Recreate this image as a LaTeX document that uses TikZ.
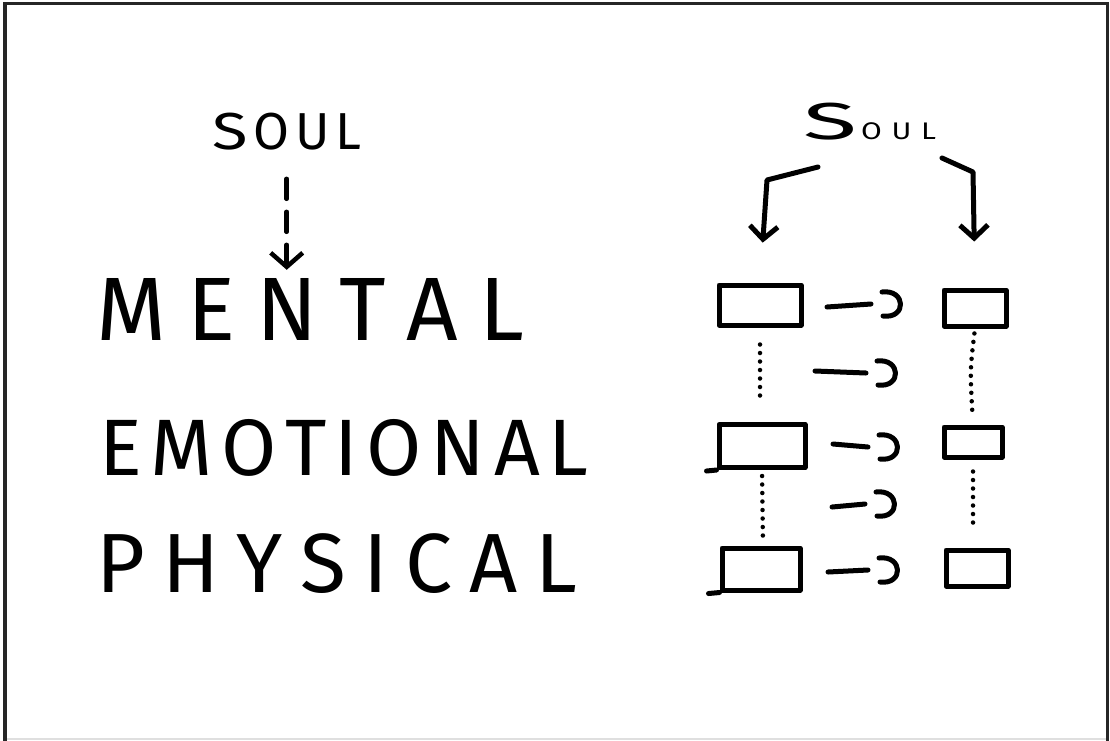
\documentclass[tikz,border=0pt]{standalone}
\usepackage{fontspec}
\setmainfont{Fira Sans}
\usetikzlibrary{arrows.meta}

\tikzset{
  ink/.style={line width=5pt, line cap=round, line join=round, black},
  box/.style={draw, line width=5pt, line join=round, rectangle, inner sep=0pt},
  % a stroke followed by a loose ")" at the target
  flow/.style={ink, to path={-- ([xshift=-31pt]\tikztotarget)
      ([shift={(-19pt,-12pt)}]\tikztotarget)
      .. controls +(24pt,-3pt) and +(24pt,3pt) .. ([shift={(-20pt,12pt)}]\tikztotarget)}},
  drop/.style={ink, -{Straight Barb[length=13pt,width=28pt]}},
  link/.style={line width=4.5pt, line cap=round, dash pattern=on 0pt off 8.5pt},
  word/.style={inner sep=0pt, anchor=base west},
}

\newcommand{\spread}[2]{\makebox[#1][s]{#2}}

\begin{document}
\begin{tikzpicture}[x=1pt,y=-1pt]
  \useasboundingbox (0,0) rectangle (1110,740);
  % frame
  \fill[white] (0,0) rectangle (1110,740);
  \draw[gray!25, line width=2pt] (5,738.5) -- (1107.5,738.5);
  \draw[black!85, line width=3.5pt] (5,742) -- (5,3.5) -- (1107.5,3.5) -- (1107.5,742);

  % left column: the three levels
  \node[word, font=\fontsize{52}{52}\selectfont] (s1) at (212,149)
    {\spread{149pt}{\scalebox{1.25}[1]{S}\hfill O\hfill U\hfill L}};
  \node[word, font=\fontsize{90}{90}\selectfont] (m) at (96,340)
    {\spread{428pt}{M\hfill E\hfill N\hfill T\hfill A\hfill L}};
  \node[word, font=\fontsize{80}{80}\selectfont] (e) at (99,475)
    {\spread{489pt}{E\hfill M\hfill O\hfill T\hfill I\hfill O\hfill N\hfill A\hfill L}};
  \node[word, font=\fontsize{84}{84}\selectfont] (p) at (96,592)
    {\spread{481pt}{P\hfill H\hfill Y\hfill S\hfill I\hfill C\hfill A\hfill L}};

  \draw[ink, line width=4.5pt, dash pattern=on 20pt off 13pt,
        -{Straight Barb[length=14pt,width=32pt]},
        shorten <=29pt, shorten >=8pt] (s1.south) -- (s1.south |- m.north);

  % right column: soul and its boxes
  \node[word] (s2) at (803,139)
    {\fontsize{52}{52}\selectfont\scalebox{1.9}[1]{S}\hspace{4pt}%
     \fontsize{24}{24}\selectfont\scalebox{1.25}[1]{\spread{60pt}{O\hfill U\hfill L}}};

  \node[box, minimum width=82pt, minimum height=40pt] (M1) at (760,305) {};
  \node[box, minimum width=62pt, minimum height=36pt] (M2) at (975,308) {};
  \node[box, minimum width=86pt, minimum height=43pt] (E1) at (762,446) {};
  \node[box, minimum width=58pt, minimum height=30pt] (E2) at (973,442) {};
  \node[box, minimum width=78pt, minimum height=42pt] (P1) at (761,569) {};
  \node[box, minimum width=62pt, minimum height=36pt] (P2) at (977,568) {};

  % stroke overshoots of the hand-drawn boxes
  \draw[ink] (E1.south west) -- ++(-10,1);
  \draw[ink] (P1.south west) -- ++(-11,1);

  % soul reaching both columns
  \coordinate (sl) at (818,167);
  \coordinate (sr) at (942,158);
  \draw[drop, shorten >=40pt] (sl) -- (767,180) -- (M1.north);
  \draw[drop, shorten >=46pt] (sr) -- (973,172) -- (M2.north);

  % level to level, left to right
  \coordinate (am) at (827,307);
  \coordinate (bm) at (902,304);
  \coordinate (a1) at (815,371);
  \coordinate (b1) at (897,373);
  \coordinate (ae) at (833,444);
  \coordinate (be) at (899,447);
  \coordinate (a2) at (832,507);
  \coordinate (b2) at (896,504);
  \coordinate (ap) at (828,572);
  \coordinate (bp) at (899,570);
  \draw[flow] (am) to (bm);
  \draw[flow] (a1) to (b1);
  \draw[flow] (ae) to (be);
  \draw[flow] (a2) to (b2);
  \draw[flow] (ap) to (bp);

  % dotted ties between levels
  \draw[link, shorten <=17pt, shorten >=24pt] (M1.south) -- (M1.south |- E1.north);
  \draw[link, shorten <=6pt, shorten >=10pt] (E1.south) -- ([xshift=1pt]E1.south |- P1.north);
  \draw[link, shorten <=5pt, shorten >=8pt] (M2.south) .. controls (970,370) .. (E2.north);
  \draw[link, shorten <=12pt, shorten >=20pt] (E2.south) -- (E2.south |- P2.north);
\end{tikzpicture}
\end{document}
